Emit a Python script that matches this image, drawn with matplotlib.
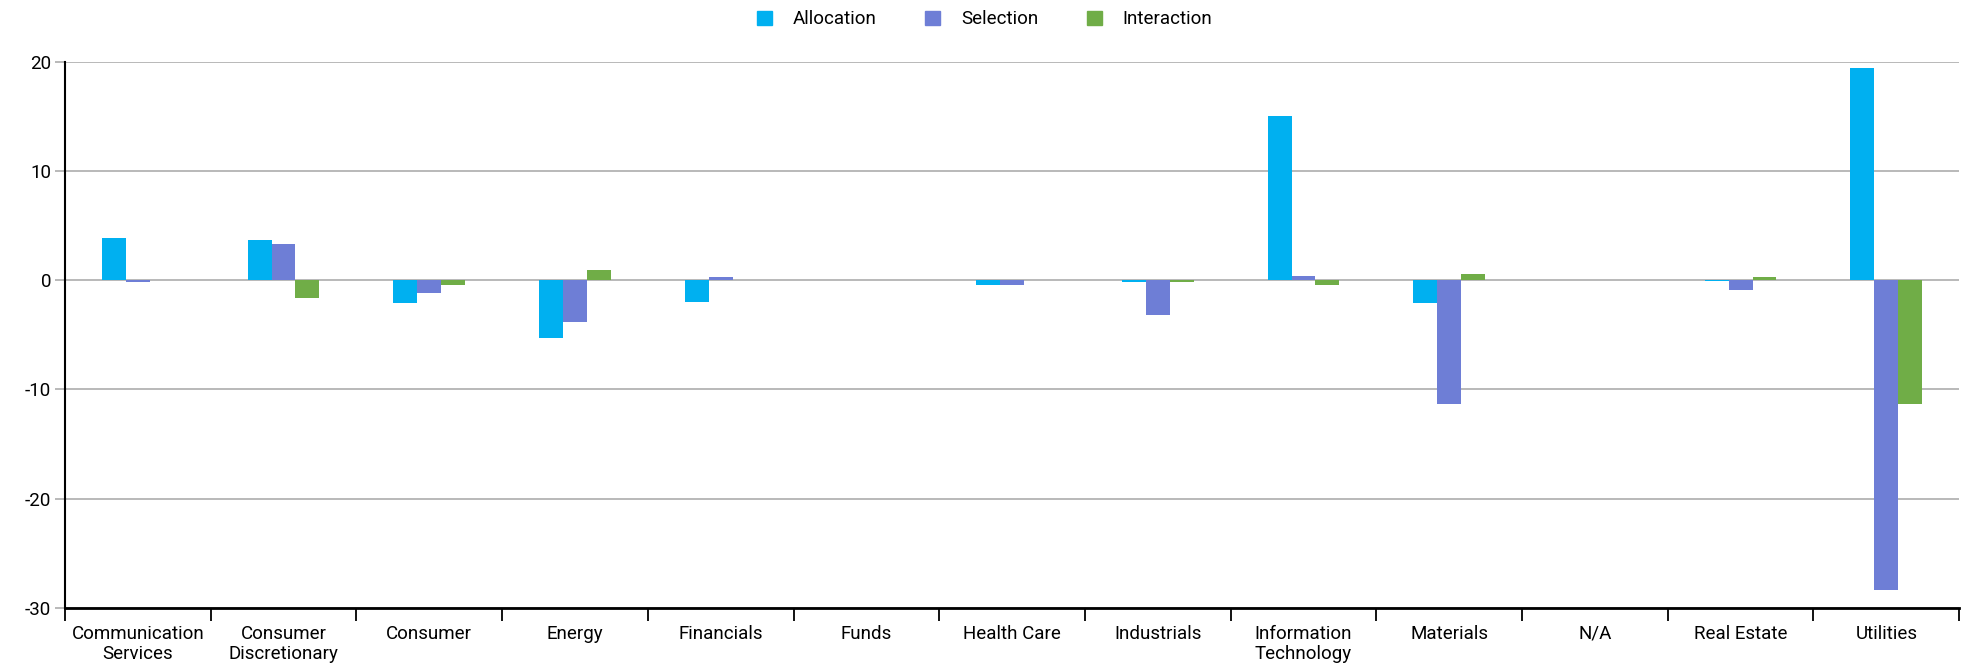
import matplotlib
matplotlib.use("Agg")
import matplotlib.pyplot as plt
import numpy as np
from matplotlib.patches import Patch

plt.rcParams['font.family'] = ['Roboto', 'DejaVu Sans']

categories = ["Communication\nServices", "Consumer\nDiscretionary", "Consumer", "Energy",
              "Financials", "Funds", "Health Care", "Industrials", "Information\nTechnology",
              "Materials", "N/A", "Real Estate", "Utilities"]
allocation = [3.9, 3.7, -2.1, -5.3, -2.0, 0.0, -0.4, -0.2, 15.05, -2.1, 0.0, -0.1, 19.4]
selection = [-0.2, 3.3, -1.2, -3.8, 0.25, 0.0, -0.4, -3.2, 0.4, -11.3, 0.0, -0.9, -28.4]
interaction = [0.0, -1.6, -0.4, 0.9, 0.0, 0.0, 0.0, -0.2, -0.4, 0.6, 0.0, 0.3, -11.3]
series_names = ["Allocation", "Selection", "Interaction"]
colors = ["#00B0F0", "#6E7ED6", "#70AD47"]
yticks = [-30, -20, -10, 0, 10, 20]

fig = plt.figure(figsize=(19.69, 6.63), dpi=100)
ax = fig.add_axes([0.033, 0.083, 0.962, 0.824])

x = np.arange(len(categories))
w = 0.164
for i, (vals, c) in enumerate(zip([allocation, selection, interaction], colors)):
    ax.bar(x + (i - 1) * w, vals, width=w, color=c, zorder=3)

ax.set_xlim(-0.5, len(categories) - 0.5)
ax.set_ylim(-30, 20)
ax.set_yticks(yticks)
ax.set_yticklabels([str(t) for t in yticks], fontsize=13.5)
ax.grid(axis='y', color='#b3b3b3', linewidth=1.3, zorder=0)
ax.tick_params(axis='y', color='#b3b3b3', length=7, width=1.3, pad=3)

ax.set_xticks(np.arange(-0.5, len(categories)), minor=False)
ax.set_xticklabels([])
ax.set_xticks(x, minor=True)
ax.set_xticklabels(categories, minor=True, fontsize=13.5)
ax.tick_params(axis='x', which='major', length=9, width=1.3, color='black')
ax.tick_params(axis='x', which='minor', length=0, pad=12)

for s in ['top', 'right']:
    ax.spines[s].set_visible(False)
ax.spines['left'].set_linewidth(1.5)
ax.spines['bottom'].set_linewidth(2)

handles = [Patch(color=c, label=n) for c, n in zip(colors, series_names)]
fig.legend(handles=handles, loc='upper center', bbox_to_anchor=(0.5, 1.01), ncol=3,
           frameon=False, fontsize=13.5, handlelength=0.8, handleheight=0.8,
           columnspacing=2.6, handletextpad=1.1)

fig.savefig("out.png", dpi=100)
